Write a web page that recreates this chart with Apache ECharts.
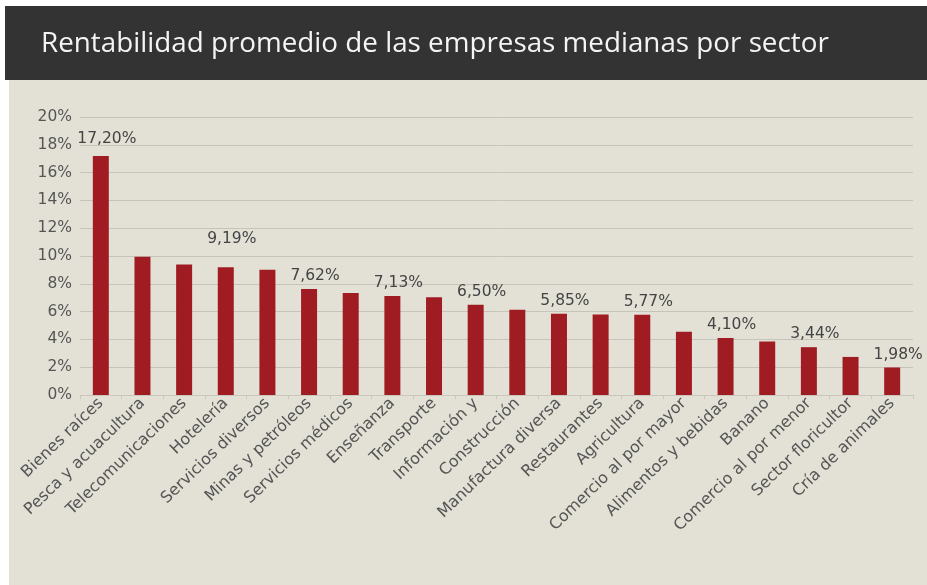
<!DOCTYPE html>
<html>
<head>
<meta charset="utf-8">
<script src="https://cdn.jsdelivr.net/npm/echarts@6/dist/echarts.min.js"></script>
<style>
  html, body { margin: 0; padding: 0; background: #ffffff; }
  #chart { width: 927px; height: 585px; }
</style>
</head>
<body>
<div id="chart"></div>
<script>
// Sectores y rentabilidad promedio (%) de las empresas medianas
const sectores = [
  'Bienes raíces', 'Pesca y acuacultura', 'Telecomunicaciones', 'Hotelería',
  'Servicios diversos', 'Minas y petróleos', 'Servicios médicos', 'Enseñanza',
  'Transporte', 'Información y', 'Construcción', 'Manufactura diversa',
  'Restaurantes', 'Agricultura', 'Comercio al por mayor', 'Alimentos y bebidas',
  'Banano', 'Comercio al por menor', 'Sector floricultor', 'Cría de animales'
];
const rentabilidad = [
  17.20, 9.94, 9.39, 9.19, 9.01, 7.62, 7.34, 7.13, 7.04, 6.50,
  6.13, 5.85, 5.80, 5.77, 4.55, 4.10, 3.85, 3.44, 2.74, 1.98
];
// Sectores cuyo valor se rotula sobre la barra
const rotulados = [
  'Bienes raíces', 'Hotelería', 'Minas y petróleos', 'Enseñanza', 'Información y',
  'Manufactura diversa', 'Agricultura', 'Alimentos y bebidas',
  'Comercio al por menor', 'Cría de animales'
];
const ejeY = { min: 0, max: 20, interval: 2 };

const fmtPct = v => v.toFixed(2).replace('.', ',') + '%';
const FUENTE = 'DejaVu Sans';

const chart = echarts.init(document.getElementById('chart'), null, { renderer: 'canvas' });

const barData = rentabilidad.map((v, i) => {
  const show = rotulados.includes(sectores[i]);
  const item = { value: v, label: { show: show } };
  if (sectores[i] === 'Hotelería') item.label.distance = 20;
  if (sectores[i] === 'Bienes raíces') item.label.distance = 9;
  return item;
});

chart.setOption({
  backgroundColor: '#ffffff',
  animation: false,
  graphic: [
    { type: 'rect', left: 9, top: 80, shape: { width: 918, height: 505 },
      style: { fill: '#e3e1d6' }, z: -10 },
    { type: 'rect', left: 5, top: 6, shape: { width: 922, height: 74 },
      style: { fill: '#333333' }, z: -5 }
  ],
  title: {
    text: 'Rentabilidad promedio de las empresas medianas por sector',
    left: 36, top: 25,
    textStyle: { color: '#f4f4f4', fontSize: 27.8, fontWeight: 'normal',
                 fontFamily: 'Open Sans' }
  },
  grid: { left: 80, right: 14, top: 117, bottom: 190, containLabel: false },
  xAxis: {
    type: 'category',
    data: sectores,
    axisLine: { show: true, lineStyle: { color: '#c9c7bd', width: 1 } },
    axisTick: { show: true, length: 4, lineStyle: { color: '#c9c7bd' } },
    axisLabel: {
      interval: 0, rotate: 44, margin: 6,
      color: '#555555', fontSize: 16, fontFamily: FUENTE
    }
  },
  yAxis: {
    type: 'value',
    min: ejeY.min, max: ejeY.max, interval: ejeY.interval,
    axisLine: { show: false },
    axisTick: { show: false },
    axisLabel: {
      formatter: v => v + '%', color: '#555555', fontSize: 15.5,
      fontFamily: FUENTE, margin: 8
    },
    splitLine: { lineStyle: { color: '#c6c4ba', width: 1 } }
  },
  series: [{
    type: 'bar',
    data: barData,
    barWidth: 16,
    itemStyle: { color: '#a01c23' },
    label: {
      position: 'top', distance: 5, offset: [6, 0],
      color: '#444444', fontSize: 15.5, fontFamily: FUENTE,
      formatter: p => fmtPct(p.value)
    }
  }]
});
</script>
</body>
</html>
